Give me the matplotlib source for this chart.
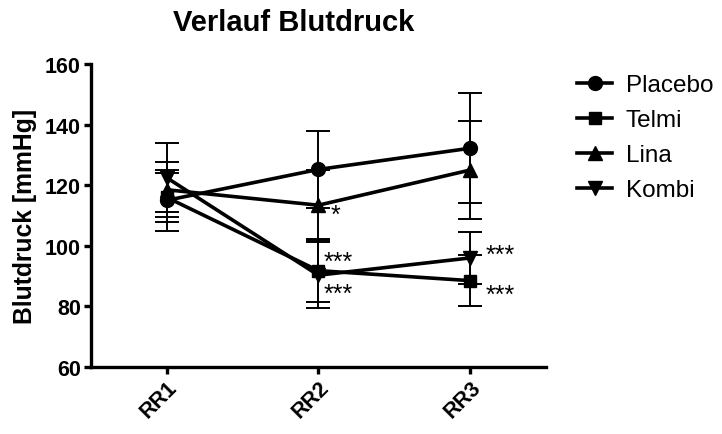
import matplotlib
matplotlib.use("Agg")
import numpy as np
from matplotlib import pyplot as plt

plt.rcParams['font.family'] = ['Liberation Sans', 'DejaVu Sans']

# Messzeitpunkte und Gruppen
zeitpunkte = ["RR1", "RR2", "RR3"]
gruppen = ["Placebo", "Telmi", "Lina", "Kombi"]

# Mittelwerte [mmHg]
placebo = [115.0, 125.2, 132.2]
telmi = [116.0, 91.8, 88.5]
lina = [118.5, 113.4, 125.0]
kombi = [122.5, 90.3, 96.0]

# Standardabweichungen
placebo_sd = [10.0, 12.6, 18.2]
telmi_sd = [8.0, 10.5, 8.5]
lina_sd = [9.0, 11.5, 16.3]
kombi_sd = [11.5, 10.8, 8.7]

# Signifikanzen (Gruppe, Zeitpunkt-Index, Text, Versatz in Punkten)
sterne = [
  ("Lina", 1, "*", (12, -7)),
  ("Telmi", 1, "***", (14.5, 6)),
  ("Kombi", 1, "***", (14.5, -13.5)),
  ("Kombi", 2, "***", (21.5, 2.5)),
  ("Telmi", 2, "***", (21.5, -10)),
]

marker = {"Placebo": "o", "Telmi": "s", "Lina": "^", "Kombi": "v"}
msize = {"Placebo": 10, "Telmi": 9, "Lina": 9.5, "Kombi": 9.5}

werte = {"Placebo": placebo, "Telmi": telmi, "Lina": lina, "Kombi": kombi}
sds = {"Placebo": placebo_sd, "Telmi": telmi_sd, "Lina": lina_sd, "Kombi": kombi_sd}

fig = plt.figure(figsize=(7.22, 4.35), dpi=100)
ax = fig.add_axes([90.7 / 722, 1 - 368 / 435, (546 - 90.7) / 722, (368 - 65) / 435])

x = np.arange(1, len(zeitpunkte) + 1)

for g in gruppen:
  ax.errorbar(x, werte[g], yerr=sds[g], fmt='none', ecolor='black',
              elinewidth=1.4, capsize=8.5, capthick=1.4, zorder=2,
              clip_on=False)
for g in gruppen:
  ax.plot(x, werte[g], color='black', lw=2.6, marker=marker[g],
          markersize=msize[g], label=g, zorder=3, clip_on=False)

for g, i, txt, off in sterne:
  ax.annotate(txt, (x[i], werte[g][i]), xytext=off, textcoords='offset points',
              ha='center', va='center', fontsize=18)

ax.set_xlim(0.5, 3.5)
ax.set_ylim(60, 160)
ax.set_yticks([60, 80, 100, 120, 140, 160])
ax.set_xticks(x)
ax.set_xticklabels(zeitpunkte, rotation=45, ha='right', va='top',
                   rotation_mode='anchor', fontweight='bold', fontsize=15.5)
for lab in ax.get_yticklabels():
  lab.set_fontweight('bold')
  lab.set_fontsize(15.5)

for s in ['top', 'right']:
  ax.spines[s].set_visible(False)
for s in ['left', 'bottom']:
  ax.spines[s].set_linewidth(2.4)
ax.tick_params(axis='both', direction='out', length=5, width=2.4, pad=2)

ax.set_ylabel("Blutdruck [mmHg]", fontweight='bold', fontsize=17.8, labelpad=6)

fig.text(294 / 722, 1 - 23 / 435, "Verlauf Blutdruck", ha='center', va='center',
         fontweight='bold', fontsize=21)

ax.legend(loc='upper left', bbox_to_anchor=(577 / 722, 1 - 75 / 435),
          bbox_transform=fig.transFigure, frameon=False, fontsize=17.5,
          handlelength=1.45, handletextpad=0.55, labelspacing=0.54,
          borderpad=0, borderaxespad=0)

fig.savefig("out.png", dpi=100)
